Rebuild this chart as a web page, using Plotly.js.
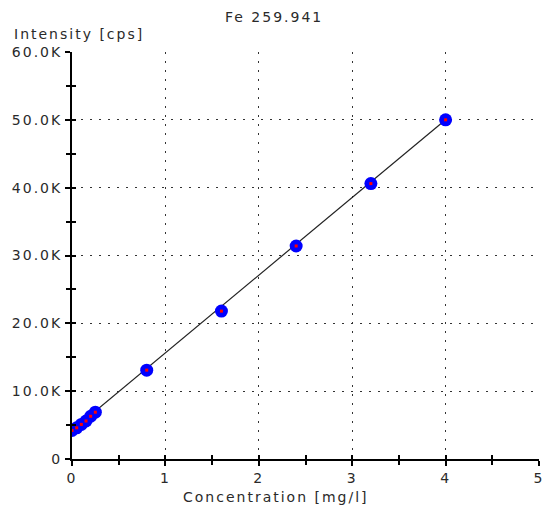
<!DOCTYPE html>
<html>
<head>
<meta charset="utf-8">
<script src="https://cdn.plot.ly/plotly-3.0.1.min.js"></script>
<style>
html,body{margin:0;padding:0;background:#fff;}
#chart{width:547px;height:512px;}
#chart svg text{letter-spacing:2px;}
</style>
</head>
<body>
<div id="chart"></div>
<script>
// Data
var concentration = [0, 0.05, 0.1, 0.15, 0.2, 0.25, 0.8, 1.6, 2.4, 3.2, 4.0];
var intensity = [4200, 4600, 5100, 5600, 6300, 6900, 13100, 21800, 31400, 40600, 50000];
var fitX = [0, 4.0];
var fitY = [4200, 50000];
var yTickVals = [0, 10000, 20000, 30000, 40000, 50000, 60000];
var yTickText = ["0", "10.0K", "20.0K", "30.0K", "40.0K", "50.0K", "60.0K"];
var xTickVals = [0, 1, 2, 3, 4, 5];
var xTickText = ["0", "1", "2", "3", "4", "5"];

var font = {family: "DejaVu Sans, Verdana, sans-serif", size: 14, color: "#2a2a2a"};

var traces = [
  {x: fitX, y: fitY, mode: "lines", line: {color: "#222", width: 1.2}, hoverinfo: "skip", showlegend: false},
  {x: concentration, y: intensity, mode: "markers", marker: {color: "#0000ff", size: 13, symbol: "circle", line: {width: 0}}, showlegend: false},
  {x: concentration, y: intensity, mode: "markers", marker: {color: "#ff0000", size: 3, symbol: "square", line: {width: 0}}, showlegend: false}
];

var commonAxis = {
  showline: true, linecolor: "#000", linewidth: 2,
  ticks: "outside", ticklen: 5, tickwidth: 2, tickcolor: "#000",
  showgrid: true, gridcolor: "#333", gridwidth: 1, griddash: "2px,7px",
  zeroline: false, tickfont: font, fixedrange: true
};

var layout = {
  width: 547, height: 512,
  margin: {l: 72, r: 8, t: 52, b: 53},
  paper_bgcolor: "#fff", plot_bgcolor: "#fff",
  xaxis: Object.assign({}, commonAxis, {
    range: [0, 5], tickvals: xTickVals, ticktext: xTickText,
    minor: {dtick: 0.5, ticks: "outside", ticklen: 4, tickwidth: 2, tickcolor: "#000", showgrid: false}
  }),
  yaxis: Object.assign({}, commonAxis, {
    range: [0, 60000], tickvals: yTickVals, ticktext: yTickText,
    minor: {dtick: 5000, ticks: "outside", ticklen: 4, tickwidth: 2, tickcolor: "#000", showgrid: false}
  }),
  xaxis2: {overlaying: "x", matches: "x", range: [0, 5], showline: false, showgrid: false, zeroline: false, showticklabels: false,
    ticks: "inside", ticklen: 4, tickwidth: 2, tickcolor: "#000", tickvals: xTickVals,
    minor: {dtick: 0.5, ticks: "inside", ticklen: 4, tickwidth: 2, tickcolor: "#000", showgrid: false}},
  yaxis2: {overlaying: "y", matches: "y", range: [0, 60000], showline: false, showgrid: false, zeroline: false, showticklabels: false,
    ticks: "inside", ticklen: 4, tickwidth: 2, tickcolor: "#000", tickvals: yTickVals,
    minor: {dtick: 5000, ticks: "inside", ticklen: 4, tickwidth: 2, tickcolor: "#000", showgrid: false}},
  annotations: [
    {text: "Fe 259.941", xref: "paper", yref: "paper", x: 0.4326, y: 1.086, xanchor: "center", yanchor: "middle", showarrow: false, font: font},
    {text: "Intensity [cps]", xref: "paper", yref: "paper", x: 0.016, y: 1.044, xanchor: "center", yanchor: "middle", showarrow: false, font: font},
    {text: "Concentration [mg/l]", xref: "paper", yref: "paper", x: 0.4368, y: -0.0934, xanchor: "center", yanchor: "middle", showarrow: false, font: font}
  ]
};

traces.push({x: [0], y: [0], xaxis: "x2", yaxis: "y2", mode: "markers", marker: {opacity: 0}, hoverinfo: "skip", showlegend: false});

Plotly.newPlot("chart", traces, layout, {displayModeBar: false, staticPlot: true});
</script>
</body>
</html>
